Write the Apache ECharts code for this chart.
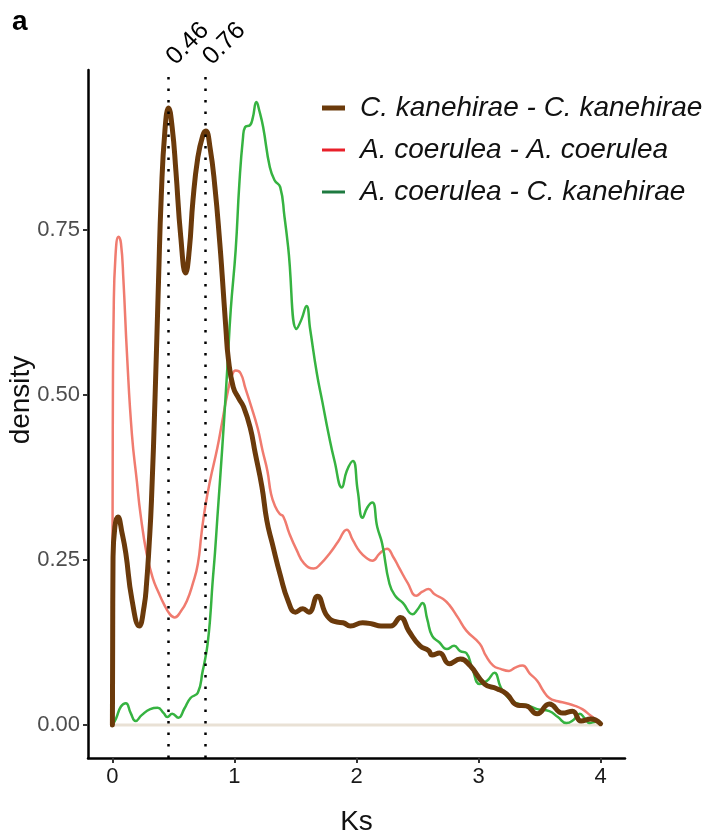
<!DOCTYPE html>
<html>
<head>
<meta charset="utf-8">
<script src="https://cdn.jsdelivr.net/npm/echarts@6/dist/echarts.min.js"></script>
<style>
html,body{margin:0;padding:0;background:#fff;}
#chart{width:722px;height:835px;}
</style>
</head>
<body>
<div id="chart"></div>
<script>
// ---- data ----
const ksTicks = [0, 1, 2, 3, 4];
const densityTicks = [0, 0.25, 0.5, 0.75];
const peakLines = [0.46, 0.76];
const peakLabels = ['0.46', '0.76'];
const seriesNames = ['C. kanehirae - C. kanehirae', 'A. coerulea - A. coerulea', 'A. coerulea - C. kanehirae'];
const baseline = [[0, 0], [4, 0]];

// C. kanehirae - C. kanehirae
const ckSelf = [
  [0,0],[0.002,0.12],[0.005,0.25],[0.02,0.30],[0.045,0.315],[0.08,0.29],[0.11,0.26],[0.16,0.19],
  [0.22,0.15],[0.26,0.18],[0.28,0.215],[0.30,0.27],[0.32,0.34],[0.35,0.50],[0.378,0.674],[0.40,0.80],
  [0.43,0.90],[0.46,0.935],[0.49,0.905],[0.52,0.84],[0.56,0.74],[0.60,0.685],[0.63,0.72],[0.66,0.795],
  [0.70,0.86],[0.74,0.893],[0.765,0.90],[0.80,0.875],[0.84,0.815],[0.88,0.73],[0.90,0.68],[0.93,0.60],
  [0.95,0.555],[0.99,0.512],[1.035,0.495],[1.075,0.482],[1.13,0.45],[1.17,0.412],[1.225,0.361],[1.265,0.31],
  [1.31,0.275],[1.377,0.226],[1.44,0.188],[1.50,0.171],[1.56,0.176],[1.61,0.171],[1.68,0.195],[1.76,0.165],
  [1.84,0.156],[1.89,0.155],[1.95,0.150],[2.05,0.155],[2.13,0.153],[2.20,0.150],[2.28,0.150],[2.36,0.163],
  [2.43,0.142],[2.52,0.12],[2.59,0.113],[2.62,0.106],[2.68,0.109],[2.76,0.093],[2.85,0.10],[2.93,0.09],
  [3.05,0.062],[3.15,0.055],[3.23,0.047],[3.32,0.03],[3.39,0.029],[3.48,0.017],[3.58,0.032],[3.69,0.018],
  [3.77,0.021],[3.84,0.006],[3.92,0.009],[4.0,0.002]
];

// A. coerulea - A. coerulea
const acSelf = [
  [0,0.2],[0.003,0.45],[0.01,0.62],[0.025,0.71],[0.05,0.74],[0.07,0.73],[0.09,0.675],[0.12,0.56],
  [0.16,0.44],[0.2,0.37],[0.23,0.32],[0.28,0.26],[0.33,0.223],[0.38,0.20],[0.42,0.184],[0.47,0.168],
  [0.51,0.163],[0.56,0.172],[0.61,0.188],[0.66,0.215],[0.70,0.244],[0.73,0.29],[0.76,0.33],[0.80,0.37],
  [0.86,0.42],[0.90,0.46],[0.94,0.50],[0.98,0.53],[1.01,0.537],[1.05,0.533],[1.09,0.51],[1.13,0.487],
  [1.19,0.45],[1.23,0.416],[1.27,0.385],[1.30,0.35],[1.334,0.331],[1.37,0.32],[1.40,0.316],[1.45,0.29],
  [1.51,0.265],[1.57,0.245],[1.65,0.237],[1.71,0.245],[1.78,0.26],[1.85,0.278],[1.92,0.296],[1.97,0.28],
  [2.03,0.262],[2.09,0.252],[2.13,0.249],[2.19,0.26],[2.25,0.267],[2.30,0.255],[2.35,0.238],[2.42,0.215],
  [2.49,0.196],[2.54,0.202],[2.59,0.206],[2.64,0.198],[2.71,0.191],[2.76,0.182],[2.83,0.163],[2.90,0.143],
  [3.01,0.123],[3.06,0.105],[3.12,0.09],[3.18,0.085],[3.25,0.082],[3.30,0.087],[3.36,0.09],[3.42,0.078],
  [3.48,0.067],[3.53,0.052],[3.58,0.041],[3.65,0.036],[3.72,0.033],[3.79,0.029],[3.85,0.024],[3.92,0.014],
  [4.0,0.003]
];

// A. coerulea - C. kanehirae
const acCk = [
  [0,0],[0.03,0.01],[0.07,0.028],[0.11,0.033],[0.15,0.018],[0.19,0.006],[0.24,0.015],[0.31,0.024],
  [0.37,0.026],[0.42,0.018],[0.45,0.012],[0.49,0.017],[0.54,0.011],[0.59,0.025],[0.64,0.041],[0.70,0.049],
  [0.74,0.082],[0.76,0.10],[0.78,0.123],[0.80,0.16],[0.82,0.214],[0.84,0.26],[0.86,0.314],[0.90,0.42],
  [0.94,0.536],[0.97,0.63],[1.01,0.72],[1.04,0.82],[1.07,0.89],[1.087,0.906],[1.128,0.909],[1.15,0.92],
  [1.18,0.944],[1.205,0.93],[1.235,0.906],[1.29,0.845],[1.33,0.825],[1.375,0.815],[1.41,0.77],[1.44,0.724],
  [1.51,0.60],[1.55,0.615],[1.59,0.635],[1.62,0.60],[1.675,0.533],[1.72,0.49],[1.77,0.442],[1.82,0.40],
  [1.88,0.36],[1.92,0.385],[1.97,0.40],[2.01,0.355],[2.05,0.314],[2.09,0.33],[2.13,0.337],[2.17,0.30],
  [2.21,0.275],[2.27,0.214],[2.32,0.195],[2.38,0.185],[2.46,0.168],[2.50,0.175],[2.54,0.185],[2.58,0.16],
  [2.62,0.135],[2.68,0.125],[2.74,0.115],[2.80,0.12],[2.85,0.112],[2.90,0.109],[2.95,0.085],[3.01,0.062],
  [3.07,0.067],[3.13,0.079],[3.18,0.058],[3.23,0.044],[3.31,0.033],[3.40,0.03],[3.48,0.024],[3.58,0.021],
  [3.65,0.012],[3.72,0.003],[3.78,0.008],[3.83,0.017],[3.87,0.01],[3.91,0.003],[3.96,0.005],[4.0,0.003]
];

// ---- styles ----
const lineColors = ['#6b3a0b', '#f07b6f', '#36b341'];
const legendColors = ['#6b3a0b', '#e8202a', '#1e7a40'];
const lineWidths = [5, 2.5, 2.5];
const FONT = 'Liberation Sans, Arial, Helvetica, sans-serif';

const chart = echarts.init(document.getElementById('chart'), null, {renderer: 'canvas'});

function lineSeries(name, data, i, z) {
  return {
    name: name, type: 'line', data: data, showSymbol: false, symbol: 'none',
    smooth: 0.5, z: z,
    lineStyle: {color: lineColors[i], width: lineWidths[i], cap: 'round', join: 'round'},
    emphasis: {disabled: true}
  };
}

const option = {
  animation: false,
  backgroundColor: '#ffffff',
  grid: {left: 88, top: 70, width: 537, height: 688, containLabel: false, outerBoundsMode: 'none'},
  xAxis: {
    type: 'value', min: -0.2, max: 4.2,
    name: 'Ks', nameLocation: 'middle', nameGap: 50,
    nameTextStyle: {fontSize: 28, color: '#111', fontFamily: FONT},
    axisLine: {onZero: false, lineStyle: {color: '#000', width: 2.5}},
    axisTick: {show: true, length: 5, customValues: ksTicks, lineStyle: {color: '#333', width: 2}},
    axisLabel: {customValues: ksTicks, fontSize: 22, color: '#1a1a1a', margin: 8, fontFamily: FONT,
      formatter: v => String(v)},
    splitLine: {show: false}
  },
  yAxis: {
    type: 'value', min: -0.05, max: 0.9925,
    axisLine: {onZero: false, lineStyle: {color: '#000', width: 2.5}},
    axisTick: {show: true, length: 5, customValues: densityTicks, lineStyle: {color: '#333', width: 2}},
    axisLabel: {customValues: densityTicks, fontSize: 22, color: '#4d4d4d', margin: 8, fontFamily: FONT,
      formatter: v => v.toFixed(2)},
    splitLine: {show: false}
  },
  series: [
    {type: 'line', data: baseline, showSymbol: false, symbol: 'none', z: 1,
     lineStyle: {color: '#e9e1d5', width: 3}},
    lineSeries(seriesNames[1], acSelf, 1, 2),
    lineSeries(seriesNames[2], acCk, 2, 3),
    lineSeries(seriesNames[0], ckSelf, 0, 4),
    {type: 'line', data: [], z: 5,
     markLine: {silent: true, symbol: ['none', 'none'], label: {show: false},
       lineStyle: {color: '#000', width: 2.5, type: [2.5, 9], cap: 'butt'},
       data: peakLines.map(v => ({xAxis: v}))}}
  ]
};
chart.setOption(option);

// legend + annotations
const graphics = [];
graphics.push({type: 'text', left: 12, top: 8,
  style: {text: 'a', fontSize: 28, fontWeight: 'bold', fill: '#000', fontFamily: FONT}});
graphics.push({type: 'text', x: 21, y: 400, rotation: Math.PI / 2,
  style: {text: 'density', fontSize: 28, fill: '#111', fontFamily: FONT, verticalAlign: 'middle', align: 'center'}});
const legY = [108, 150, 192];
seriesNames.forEach((n, i) => {
  graphics.push({type: 'line', shape: {x1: 322, y1: legY[i], x2: 345, y2: legY[i]},
    style: {stroke: legendColors[i], lineWidth: i === 0 ? 5 : 3}});
  graphics.push({type: 'text', x: 360, y: legY[i],
    style: {text: n, fontSize: 28, fontStyle: 'italic', fill: '#111', fontFamily: FONT, verticalAlign: 'middle', align: 'left'}});
});
peakLines.forEach((v, i) => {
  const p = chart.convertToPixel({gridIndex: 0}, [v, 0]);
  graphics.push({type: 'text', x: p[0] + 2, y: 61, rotation: Math.PI / 4,
    style: {text: peakLabels[i], fontSize: 25, fill: '#000', fontFamily: FONT, verticalAlign: 'middle', align: 'left'}});
});
chart.setOption({graphic: graphics});
</script>
</body>
</html>
